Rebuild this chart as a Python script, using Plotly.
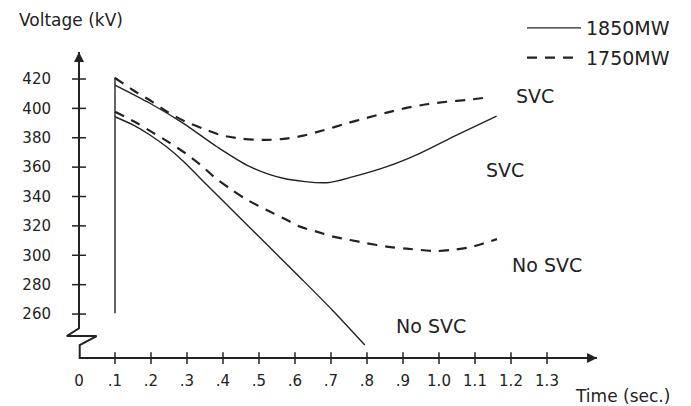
import plotly.graph_objects as go

# ---- data ----
# 1850 MW with SVC (solid)
t_1850_svc = [0.1, 0.197, 0.29, 0.383, 0.475, 0.567, 0.688, 0.762, 0.855, 0.947, 1.04, 1.16]
v_1850_svc = [415.9, 403.5, 389.8, 373.9, 360.3, 352.4, 349.4, 353.5, 360.3, 369.4, 380.7, 394.8]

# 1750 MW with SVC (dashed)
t_1750_svc = [0.1, 0.153, 0.199, 0.245, 0.294, 0.345, 0.396, 0.452, 0.509, 0.568, 0.623, 0.679,
              0.744, 0.799, 0.855, 0.91, 0.966, 1.021, 1.077, 1.123]
v_1750_svc = [420.7, 412.0, 405.2, 397.7, 391.2, 386.2, 381.7, 379.4, 378.5, 379.2, 381.4, 385.1,
              389.8, 393.5, 397.1, 400.3, 402.8, 404.5, 405.7, 407.1]

# 1750 MW without SVC (dashed)
t_1750_nosvc = [0.1, 0.157, 0.204, 0.25, 0.296, 0.338, 0.38, 0.421, 0.463, 0.521, 0.568, 0.614,
                0.66, 0.706, 0.753, 0.799, 0.855, 0.91, 0.994, 1.04, 1.086, 1.123, 1.161]
v_1750_nosvc = [397.7, 390.5, 383.7, 376.9, 369.4, 361.5, 352.4, 345.1, 338.3, 330.8, 325.2, 319.5,
                316.1, 312.7, 310.4, 308.2, 305.9, 304.5, 302.9, 303.8, 305.5, 308.0, 311.0]

# 1850 MW without SVC (solid)
t_1850_nosvc = [0.1, 0.15, 0.197, 0.244, 0.289, 0.336, 0.428, 0.522, 0.614, 0.706, 0.794]
v_1850_nosvc = [394.3, 388.7, 381.9, 373.7, 364.2, 352.6, 330.1, 307.3, 284.9, 262.1, 238.9]

# fault-clearing step at t = 0.1
t_step = [0.1, 0.1]
v_step = [260.5, 421.0]

# axis ticks / labels
x_tickvals = [0, 0.1, 0.2, 0.3, 0.4, 0.5, 0.6, 0.7, 0.8, 0.9, 1.0, 1.1, 1.2, 1.3]
x_ticktext = ["0", ".1", ".2", ".3", ".4", ".5", ".6", ".7", ".8", ".9", "1.0", "1.1", "1.2", "1.3"]
x_tickmarks = x_tickvals[1:]
y_tickvals = [260, 280, 300, 320, 340, 360, 380, 400, 420]
y_ticktext = [str(v) for v in y_tickvals]

# curve labels
label_text = ["SVC", "SVC", "No SVC", "No SVC"]
label_t = [1.267, 1.183, 1.30, 0.978]
label_v = [408.4, 358.0, 293.4, 251.9]

# axis geometry (broken vertical axis)
x_axis_v = 230.0
y_axis_top = 438.4
x_axis_end = 1.439
break_t = [0.0, 0.0, -0.034, 0.049, 0.002, 0.002, x_axis_end]
break_v = [y_axis_top, 250.3, 245.0, 245.0, 238.9, x_axis_v, x_axis_v]

INK = "#222222"
FONT = "DejaVu Sans"

fig = go.Figure()

# axes drawn as lines through the data scales
fig.add_trace(go.Scatter(x=break_t, y=break_v, mode="lines",
                         line=dict(color=INK, width=2), showlegend=False, hoverinfo="skip"))
fig.add_trace(go.Scatter(x=[0.0], y=[y_axis_top], mode="markers",
                         marker=dict(symbol="arrow-up", size=10, color=INK),
                         showlegend=False, hoverinfo="skip", cliponaxis=False))
fig.add_trace(go.Scatter(x=[x_axis_end], y=[x_axis_v], mode="markers",
                         marker=dict(symbol="arrow-right", size=10, color=INK),
                         showlegend=False, hoverinfo="skip", cliponaxis=False))
fig.add_trace(go.Scatter(x=x_tickmarks, y=[x_axis_v] * len(x_tickmarks), mode="markers",
                         marker=dict(symbol="line-ns", size=8.5, line=dict(color=INK, width=1.5)),
                         showlegend=False, hoverinfo="skip", cliponaxis=False))
fig.add_trace(go.Scatter(x=[0.0] * len(y_tickvals), y=y_tickvals, mode="markers",
                         marker=dict(symbol="line-ew", size=10, line=dict(color=INK, width=1.5)),
                         showlegend=False, hoverinfo="skip", cliponaxis=False))

# curves
fig.add_trace(go.Scatter(x=t_1850_svc, y=v_1850_svc, mode="lines", name="1850MW",
                         legendgroup="1850", line=dict(color=INK, width=1.4, shape="spline", smoothing=0.8)))
fig.add_trace(go.Scatter(x=t_1750_svc, y=v_1750_svc, mode="lines", name="1750MW",
                         legendgroup="1750", line=dict(color=INK, width=2.2, dash="10px,8px",
                                                       shape="spline", smoothing=0.8)))
fig.add_trace(go.Scatter(x=t_1850_nosvc, y=v_1850_nosvc, mode="lines", name="1850MW",
                         legendgroup="1850", showlegend=False,
                         line=dict(color=INK, width=1.4, shape="spline", smoothing=0.8)))
fig.add_trace(go.Scatter(x=t_1750_nosvc, y=v_1750_nosvc, mode="lines", name="1750MW",
                         legendgroup="1750", showlegend=False,
                         line=dict(color=INK, width=2.2, dash="10px,8px", shape="spline", smoothing=0.8)))
fig.add_trace(go.Scatter(x=t_step, y=v_step, mode="lines", legendgroup="1850", showlegend=False,
                         line=dict(color=INK, width=1.4), hoverinfo="skip"))

for txt, tx, vy in zip(label_text, label_t, label_v):
    fig.add_annotation(x=tx, y=vy, xref="x", yref="y", text=txt, showarrow=False,
                       font=dict(family=FONT, size=19, color=INK))

# page body adds an 8 px offset; figure is sized so the page matches 691x406
OFF = 8
W, H = 691 - OFF, 406 - OFF
L, R, T, B = 58 - OFF, 5, 8 - OFF, 41
pw, ph = W - L - R, H - T - B

def px_x(p):
    return (p - OFF - L) / pw

def px_y(p):
    return (H - B - (p - OFF)) / ph

fig.add_annotation(x=px_x(17), y=px_y(20), xref="paper", yref="paper", text="Voltage (kV)",
                   showarrow=False, xanchor="left", yanchor="middle",
                   font=dict(family=FONT, size=17, color=INK))
fig.add_annotation(x=px_x(573), y=px_y(396), xref="paper", yref="paper", text="Time (sec.)",
                   showarrow=False, xanchor="left", yanchor="middle",
                   font=dict(family=FONT, size=17, color=INK))

fig.update_layout(
    width=W, height=H,
    margin=dict(l=L, r=R, t=T, b=B, autoexpand=False),
    paper_bgcolor="white", plot_bgcolor="white",
    showlegend=True,
    legend=dict(x=px_x(522), y=px_y(9), xanchor="left", yanchor="top",
                font=dict(family=FONT, size=19, color=INK), bgcolor="rgba(0,0,0,0)",
                itemwidth=54, tracegroupgap=2, traceorder="grouped"),
    xaxis=dict(range=[-0.0583, 1.6861], showgrid=False, zeroline=False, showline=False,
               tickmode="array", tickvals=x_tickvals, ticktext=x_ticktext,
               ticks="outside", ticklen=2, tickcolor="rgba(0,0,0,0)", automargin=False,
               tickfont=dict(family=FONT, size=15, color=INK), fixedrange=True),
    yaxis=dict(range=[225.31, 468.33], showgrid=False, zeroline=False, showline=False,
               tickmode="array", tickvals=y_tickvals, ticktext=y_ticktext,
               ticks="outside", ticklen=3, tickcolor="rgba(0,0,0,0)", automargin=False,
               tickfont=dict(family=FONT, size=15, color=INK), fixedrange=True),
)

fig.write_html("out.html")
